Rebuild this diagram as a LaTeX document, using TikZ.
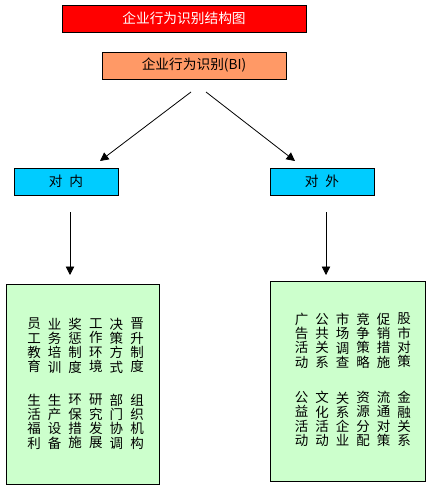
\documentclass[tikz,border=0pt]{standalone}
\usepackage{fontspec}
\usepackage{xcolor}
\usetikzlibrary{arrows.meta}
\newfontfamily\cjk{Noto Sans CJK SC}
\definecolor{titlered}{HTML}{FF0000}
\definecolor{biorange}{HTML}{FF9966}
\definecolor{sideblue}{HTML}{00CCFF}
\definecolor{listgreen}{HTML}{CCFFCC}
\tikzset{
  box/.style={draw=black, line width=0.8pt, inner sep=0pt, font=\cjk\fontsize{13.7}{14.3}\selectfont},
  arr/.style={line width=0.8pt, -{Triangle[width=8.5pt,length=8.5pt]}},
  vcol/.style={inner sep=0pt, align=center, font=\cjk\fontsize{13.5}{14.3}\selectfont}
}
\begin{document}
\begin{tikzpicture}[x=1pt,y=-1pt]
			\useasboundingbox (0,0) rectangle (431,487);
			
			% title boxes
			\node[box, fill=titlered, text=white, minimum width=244pt, minimum height=27pt] (title) at (184,18.5) {企业行为识别结构图};
			\node[box, fill=biorange, minimum width=184pt, minimum height=27pt] (bi) at (194,65.5) {企业行为识别(BI)};
			
			% inner / outer
			\node[box, fill=sideblue, minimum width=104pt, minimum height=27pt] (inner) at (66,181.5) {对\hspace{0.5em}内};
			\node[box, fill=sideblue, minimum width=104pt, minimum height=27pt] (outer) at (322,181.5) {对\hspace{0.5em}外};
			
			% list boxes
			\node[box, fill=listgreen, minimum width=153pt, minimum height=200pt] (innerlist) at (82.5,384) {};
			\node[box, fill=listgreen, minimum width=155pt, minimum height=200pt] (outerlist) at (347.5,381) {};
			
			% arrow ends
			\coordinate (bil) at (191,92);
			\coordinate (bir) at (206,92);
			\coordinate (innertip) at (100,161);
			\coordinate (outertip) at (295,161);
			\coordinate (innerdown) at (70,212);
			\coordinate (outerdown) at (326,212);
			\coordinate (innerlisttip) at (70,275);
			\coordinate (outerlisttip) at (326,275);
			
			% connecting arrows
			\draw[arr] (bil) -- (innertip);
			\draw[arr] (bir) -- (outertip);
			\draw[arr] (innerdown) -- (innerlisttip);
			\draw[arr] (outerdown) -- (outerlisttip);
			
			% inner items
			\foreach \t [count=\i from 0] in {员\\工\\教\\育, 业\\务\\培\\训, 奖\\惩\\制\\度, 工\\作\\环\\境, 决\\策\\方\\式, 晋\\升\\制\\度}
				\node[vcol] (inA\i) at (34+20.6*\i,345.5) {\t};
			\foreach \t [count=\i from 0] in {生\\活\\福\\利, 生\\产\\设\\备, 环\\保\\措\\施, 研\\究\\发\\展, 部\\门\\协\\调, 组\\织\\机\\构}
				\node[vcol] (inB\i) at (34+20.6*\i,421.5) {\t};
			
			% outer items
			\foreach \t [count=\i from 0] in {广\\告\\活\\动, 公\\共\\关\\系, 市\\场\\调\\查, 竞\\争\\策\\略, 促\\销\\措\\施, 股\\市\\对\\策}
				\node[vcol] (outA\i) at (301.5+20.5*\i,340.5) {\t};
			\foreach \t [count=\i from 0] in {公\\益\\活\\动, 文\\化\\活\\动, 关\\系\\企\\业, 资\\源\\分\\配, 流\\通\\对\\策, 金\\融\\关\\系}
				\node[vcol] (outB\i) at (301.5+20.5*\i,419) {\t};
		\end{tikzpicture}
\end{document}
